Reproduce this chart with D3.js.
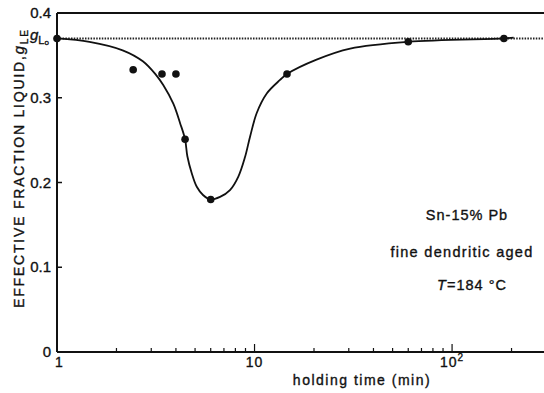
<!DOCTYPE html>
<html>
<head>
<meta charset="utf-8">
<script src="https://cdn.jsdelivr.net/npm/d3@7"></script>
<style>
  body { margin: 0; background: #fff; }
  text { font-family: "Liberation Sans", Arial, sans-serif; fill: #111; stroke: #111; stroke-width: 0.35; }
</style>
</head>
<body>
<div id="chart"></div>
<script>
// measured points (holding time in min, effective liquid fraction)
const timeMin = [1, 2.43, 3.4, 4.0, 4.45, 6.0, 14.6, 60, 183];
const gLE = [0.37, 0.333, 0.328, 0.328, 0.251, 0.180, 0.328, 0.366, 0.370];

// hand-drawn trend curve
const curveTime = [1, 1.46, 2.15, 2.72, 3.17, 3.45, 3.88, 4.2, 4.45, 4.57, 4.81, 5.1, 5.5, 5.95, 6.69, 7.51, 8.28, 8.95, 9.49, 10.26, 11.53, 13.46, 14.6, 20.6, 30.5, 60, 183, 205];
const curveG = [0.370, 0.366, 0.356, 0.343, 0.327, 0.315, 0.293, 0.270, 0.251, 0.231, 0.211, 0.195, 0.185, 0.180, 0.183, 0.191, 0.207, 0.230, 0.254, 0.282, 0.305, 0.321, 0.328, 0.345, 0.358, 0.366, 0.370, 0.371];

const gL0 = 0.37;
const yTicks = [0, 0.1, 0.2, 0.3, 0.4];
const yTickLabels = ['0', '0.1', '0.2', '0.3', '0.4'];
const xMinor = [2, 3, 4, 5, 6, 7, 8, 9, 20, 30, 40, 50, 60, 70, 80, 90, 200];

const width = 544, height = 393;
const x = d3.scaleLog().domain([1, 292]).range([57, 544]);
const y = d3.scaleLinear().domain([0, 0.4]).range([352, 13]);

const svg = d3.select('#chart').append('svg')
  .attr('width', width).attr('height', height);

// frame: left, bottom, top (right edge is cut off)
const frame = svg.append('g').attr('stroke', '#111').attr('fill', 'none');
frame.append('line').attr('x1', x(1)).attr('x2', x(1)).attr('y1', y(0)).attr('y2', y(0.4)).attr('stroke-width', 2);
frame.append('line').attr('x1', x(1)).attr('x2', width).attr('y1', y(0)).attr('y2', y(0)).attr('stroke-width', 2);
frame.append('line').attr('x1', x(1)).attr('x2', width).attr('y1', y(0.4)).attr('y2', y(0.4)).attr('stroke-width', 2);

// y ticks (inward)
svg.append('g').selectAll('line').data(yTicks.slice(1, 4)).join('line')
  .attr('x1', x(1)).attr('x2', x(1) + 5)
  .attr('y1', d => y(d)).attr('y2', d => y(d))
  .attr('stroke', '#111').attr('stroke-width', 1.5);

svg.append('g').selectAll('text').data(yTicks).join('text')
  .attr('x', 51).attr('y', d => y(d) + 5)
  .attr('text-anchor', 'end')
  .attr('font-size', 15)
  .text((d, i) => yTickLabels[i]);

// x ticks (inward)
svg.append('g').selectAll('line').data(xMinor).join('line')
  .attr('x1', d => x(d)).attr('x2', d => x(d))
  .attr('y1', y(0)).attr('y2', y(0) - 4)
  .attr('stroke', '#111').attr('stroke-width', 1.2);
svg.append('g').selectAll('line').data([10, 100]).join('line')
  .attr('x1', d => x(d)).attr('x2', d => x(d))
  .attr('y1', y(0)).attr('y2', y(0) - 8)
  .attr('stroke', '#111').attr('stroke-width', 1.2);

svg.append('text').attr('x', x(1) + 2).attr('y', 367).attr('text-anchor', 'middle').attr('font-size', 14).text('1');
svg.append('text').attr('x', x(10)).attr('y', 367).attr('text-anchor', 'middle').attr('font-size', 14).attr('letter-spacing', 1).text('10');
const t100 = svg.append('text').attr('x', x(100)).attr('y', 367).attr('text-anchor', 'middle').attr('font-size', 14).attr('letter-spacing', 1);
t100.append('tspan').text('10');
t100.append('tspan').attr('dy', -6).attr('font-size', 10).text('2');

// axis titles
svg.append('text').attr('x', 362).attr('y', 385)
  .attr('text-anchor', 'middle').attr('font-size', 14)
  .attr('letter-spacing', 1.5).text('holding time (min)');

const yt = svg.append('text')
  .attr('transform', 'translate(24,308) rotate(-90)')
  .attr('text-anchor', 'start').attr('font-size', 14)
  .attr('letter-spacing', 1.8);
yt.append('tspan').text('EFFECTIVE  FRACTION  LIQUID,');
yt.append('tspan').attr('font-style', 'italic').attr('font-size', 15).text('g');
yt.append('tspan').attr('dy', 4).attr('font-size', 10).text('LE');

// g_L0 reference line
svg.append('line')
  .attr('x1', x(1)).attr('x2', width)
  .attr('y1', y(gL0)).attr('y2', y(gL0))
  .attr('stroke', '#222').attr('stroke-width', 2)
  .attr('stroke-dasharray', '1.5,1.3');

const gl = svg.append('text').attr('x', 30).attr('y', y(gL0) + 2).attr('font-size', 15);
gl.append('tspan').attr('font-style', 'italic').text('g');
gl.append('tspan').attr('dy', 4).attr('font-size', 11).text('L');
gl.append('tspan').attr('dy', 1).attr('font-size', 8).text('o');

// trend curve
const curveData = curveTime.map((t, i) => [t, curveG[i]]);
svg.append('path').datum(curveData)
  .attr('fill', 'none').attr('stroke', '#111').attr('stroke-width', 1.8)
  .attr('d', d3.line().x(d => x(d[0])).y(d => y(d[1])).curve(d3.curveCatmullRom.alpha(0.5)));

// points
svg.append('g').selectAll('circle').data(timeMin).join('circle')
  .attr('cx', d => x(d)).attr('cy', (d, i) => y(gLE[i]))
  .attr('r', 3.8).attr('fill', '#111');

// annotations
svg.append('text').attr('x', 467).attr('y', 220).attr('text-anchor', 'middle').attr('font-size', 14.5).attr('letter-spacing', 1).text('Sn-15% Pb');
svg.append('text').attr('x', 462).attr('y', 257).attr('text-anchor', 'middle').attr('font-size', 14.5).attr('letter-spacing', 1.3).text('fine  dendritic aged');
const tt = svg.append('text').attr('x', 472).attr('y', 290).attr('text-anchor', 'middle').attr('font-size', 14.5).attr('letter-spacing', 1);
tt.append('tspan').attr('font-style', 'italic').text('T');
tt.append('tspan').text('=184 °C');
</script>
</body>
</html>
